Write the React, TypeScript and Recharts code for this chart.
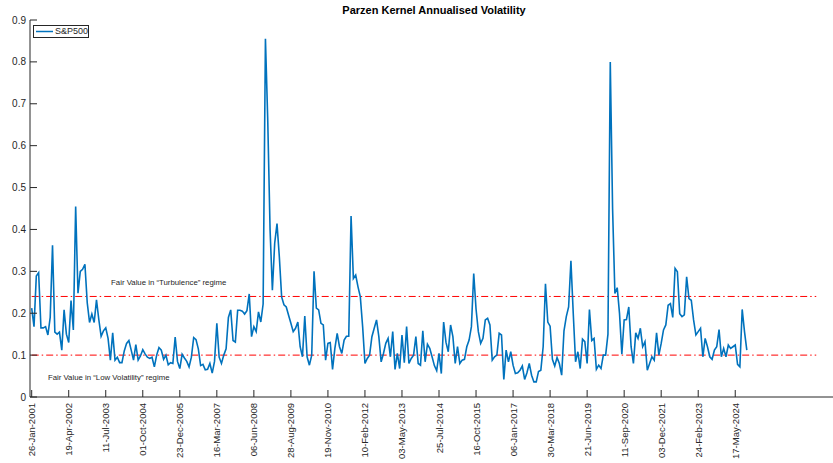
import { LineChart, Line, XAxis, YAxis, ReferenceLine, ReferenceDot, Legend } from 'recharts';

// 4-weekly observations starting 26-Jan-2001, tick every 16 observations
const tickDates = [
  '26-Jan-2001', '19-Apr-2002', '11-Jul-2003', '01-Oct-2004', '23-Dec-2005',
  '16-Mar-2007', '06-Jun-2008', '28-Aug-2009', '19-Nov-2010', '10-Feb-2012',
  '03-May-2013', '25-Jul-2014', '16-Oct-2015', '06-Jan-2017', '30-Mar-2018',
  '21-Jun-2019', '11-Sep-2020', '03-Dec-2021', '24-Feb-2023', '17-May-2024',
];
const tickIdx = [1, 17, 33, 49, 65, 81, 97, 113, 129, 145, 161, 177, 193, 209, 225, 241, 257, 273, 289, 305];
const yTicks = [0, 0.1, 0.2, 0.3, 0.4, 0.5, 0.6, 0.7, 0.8, 0.9];

const sp500Vol = [
  0.212, 0.168, 0.289, 0.297, 0.165, 0.165, 0.168, 0.148, 0.19, 0.362, 0.155, 0.15, 0.155, 0.112, 0.208, 0.15,
  0.13, 0.23, 0.16, 0.455, 0.248, 0.3, 0.305, 0.317, 0.225, 0.178, 0.198, 0.178, 0.232, 0.185, 0.145, 0.158,
  0.165, 0.14, 0.088, 0.153, 0.088, 0.095, 0.082, 0.082, 0.11, 0.128, 0.135, 0.112, 0.088, 0.125, 0.088, 0.098,
  0.113, 0.103, 0.095, 0.092, 0.095, 0.072, 0.1, 0.118, 0.112, 0.09, 0.1, 0.077, 0.082, 0.08, 0.143, 0.085,
  0.068, 0.102, 0.093, 0.085, 0.072, 0.095, 0.142, 0.137, 0.115, 0.075, 0.078, 0.065, 0.066, 0.08, 0.057, 0.085,
  0.176, 0.095, 0.08, 0.1, 0.115, 0.19, 0.208, 0.135, 0.131, 0.207, 0.207, 0.205, 0.198, 0.206, 0.246, 0.144,
  0.168, 0.156, 0.203, 0.179, 0.222, 0.855, 0.66, 0.4, 0.255, 0.367, 0.414, 0.335, 0.239, 0.22, 0.215, 0.195,
  0.176, 0.156, 0.164, 0.179, 0.12, 0.096, 0.193, 0.096, 0.076, 0.1, 0.3, 0.212, 0.208, 0.176, 0.172, 0.088,
  0.128, 0.13, 0.066, 0.116, 0.152, 0.12, 0.104, 0.136, 0.145, 0.145, 0.432, 0.283, 0.291, 0.263, 0.239, 0.168,
  0.08, 0.092, 0.1, 0.144, 0.164, 0.184, 0.144, 0.084, 0.104, 0.128, 0.14, 0.096, 0.156, 0.066, 0.104, 0.068,
  0.148, 0.082, 0.168, 0.08, 0.092, 0.1, 0.144, 0.08, 0.076, 0.158, 0.084, 0.126, 0.116, 0.096, 0.075, 0.063,
  0.104, 0.056, 0.179, 0.131, 0.108, 0.172, 0.144, 0.08, 0.12, 0.08, 0.088, 0.09, 0.12, 0.136, 0.168, 0.295,
  0.21, 0.156, 0.128, 0.14, 0.184, 0.188, 0.172, 0.088, 0.096, 0.1, 0.152, 0.148, 0.042, 0.112, 0.084, 0.108,
  0.076, 0.056, 0.058, 0.064, 0.074, 0.042, 0.058, 0.08, 0.052, 0.036, 0.036, 0.061, 0.064, 0.12, 0.27, 0.179,
  0.169, 0.09, 0.074, 0.094, 0.08, 0.052, 0.158, 0.192, 0.215, 0.325, 0.2, 0.084, 0.108, 0.068, 0.138, 0.132,
  0.08, 0.209, 0.135, 0.14, 0.066, 0.076, 0.068, 0.1, 0.1, 0.15, 0.8, 0.45, 0.247, 0.261, 0.199, 0.102,
  0.184, 0.185, 0.215, 0.12, 0.08, 0.153, 0.14, 0.164, 0.12, 0.132, 0.064, 0.08, 0.096, 0.088, 0.153, 0.1,
  0.128, 0.16, 0.172, 0.219, 0.223, 0.19, 0.307, 0.299, 0.199, 0.192, 0.196, 0.287, 0.235, 0.231, 0.184, 0.148,
  0.156, 0.164, 0.096, 0.14, 0.12, 0.096, 0.09, 0.112, 0.12, 0.161, 0.096, 0.116, 0.096, 0.124, 0.116, 0.12,
  0.124, 0.078, 0.072, 0.209, 0.156, 0.112,
];

const turbulenceLevel = 0.24;
const lowVolLevel = 0.1;
const regimeSpan = [1, 340];

const data = sp500Vol.map((v, i) => ({ idx: i + 1, vol: v }));

const AXIS = '#262626';
const BLUE = '#0072BD';
const FONT = '"Liberation Sans", Arial, Helvetica, sans-serif';
const TICK_LEN = 7;
const X_DOMAIN = [0.27, 349.4];

// MATLAB-style inward ticks
const BottomTick = ({ x, y, payload }: any) => (
  <g>
    <line x1={x} y1={y} x2={x} y2={y - TICK_LEN} stroke={AXIS} />
    <text
      x={x}
      y={y + 6}
      transform={`rotate(-90 ${x} ${y + 6})`}
      textAnchor="end"
      dominantBaseline="central"
      fontSize={9.5}
      fontFamily={FONT}
      fill={AXIS}
    >
      {tickDates[tickIdx.indexOf(payload.value)]}
    </text>
  </g>
);

const TopTick = ({ x, y }: any) => <line x1={x} y1={y} x2={x} y2={y + TICK_LEN} stroke={AXIS} />;

const LeftTick = ({ x, y, payload }: any) => (
  <g>
    <line x1={x} y1={y} x2={x + TICK_LEN} y2={y} stroke={AXIS} />
    <text x={x - 4} y={y} textAnchor="end" dominantBaseline="central" fontSize={10} fontFamily={FONT} fill={AXIS}>
      {String(payload.value)}
    </text>
  </g>
);

const RightTick = ({ x, y }: any) => <line x1={x} y1={y} x2={x - TICK_LEN} y2={y} stroke={AXIS} />;

const LegendBox = () => (
  <div
    style={{
      display: 'flex',
      alignItems: 'center',
      width: 54,
      height: 11,
      border: `1px solid ${AXIS}`,
      background: '#fff',
      fontFamily: FONT,
      fontSize: 9,
      color: AXIS,
    }}
  >
    <svg width={21} height={11}>
      <line x1={2} y1={5.5} x2={19} y2={5.5} stroke={BLUE} strokeWidth={1.5} />
    </svg>
    <span style={{ lineHeight: '11px' }}>S&amp;P500</span>
  </div>
);

const noteStyle = { position: 'right' as const, offset: 0, fontSize: 7.8, fontFamily: FONT, fill: AXIS };

export default function App() {
  return (
    <div style={{ position: 'fixed', left: 0, top: 0, width: 833, height: 463, overflow: 'hidden', background: '#fff' }}>
      <LineChart width={850} height={463} data={data} margin={{ top: 20, right: 12, bottom: 0, left: 0 }}>
        <XAxis
          dataKey="idx"
          type="number"
          domain={X_DOMAIN}
          allowDataOverflow
          ticks={tickIdx}
          interval={0}
          height={66}
          tickSize={0}
          tickMargin={0}
          stroke={AXIS}
          tick={<BottomTick />}
        />
        <XAxis
          xAxisId="top"
          orientation="top"
          type="number"
          domain={X_DOMAIN}
          allowDataOverflow
          ticks={tickIdx}
          interval={0}
          height={0}
          tickSize={0}
          tickMargin={0}
          stroke={AXIS}
          tick={<TopTick />}
        />
        <YAxis
          type="number"
          domain={[0, 0.9]}
          allowDataOverflow
          ticks={yTicks}
          interval={0}
          width={30}
          tickSize={0}
          tickMargin={0}
          stroke={AXIS}
          tick={<LeftTick />}
        />
        <YAxis
          yAxisId="right"
          orientation="right"
          type="number"
          domain={[0, 0.9]}
          allowDataOverflow
          ticks={yTicks}
          interval={0}
          width={0}
          tickSize={0}
          tickMargin={0}
          stroke={AXIS}
          tick={<RightTick />}
        />
        <ReferenceLine
          segment={[{ x: regimeSpan[0], y: turbulenceLevel }, { x: regimeSpan[1], y: turbulenceLevel }]}
          stroke="#FF0000"
          strokeWidth={1}
          strokeDasharray="7 3 1.5 3"
        />
        <ReferenceLine
          segment={[{ x: regimeSpan[0], y: lowVolLevel }, { x: regimeSpan[1], y: lowVolLevel }]}
          stroke="#FF0000"
          strokeWidth={1}
          strokeDasharray="7 3 1.5 3"
        />
        <ReferenceDot
          x={35.3}
          y={0.275}
          r={0.01}
          fill="none"
          stroke="none"
          label={{ value: 'Fair Value in “Turbulence” regime', ...noteStyle }}
        />
        <ReferenceDot
          x={8}
          y={0.048}
          r={0.01}
          fill="none"
          stroke="none"
          label={{ value: 'Fair Value in “Low Volatility” regime', ...noteStyle }}
        />
        <Line
          type="linear"
          dataKey="vol"
          name="S&P500"
          stroke={BLUE}
          strokeWidth={1.6}
          dot={false}
          isAnimationActive={false}
        />
        <Legend
          layout="vertical"
          align="center"
          verticalAlign="middle"
          wrapperStyle={{ left: 33, top: 25, width: 'auto', height: 'auto' }}
          content={<LegendBox />}
        />
      </LineChart>
      <div
        style={{
          position: 'absolute',
          top: 4,
          left: 434,
          transform: 'translateX(-50%)',
          whiteSpace: 'nowrap',
          fontFamily: FONT,
          fontWeight: 'bold',
          fontSize: 11,
          lineHeight: '13px',
          color: '#000',
        }}
      >
        Parzen Kernel Annualised Volatility
      </div>
    </div>
  );
}
